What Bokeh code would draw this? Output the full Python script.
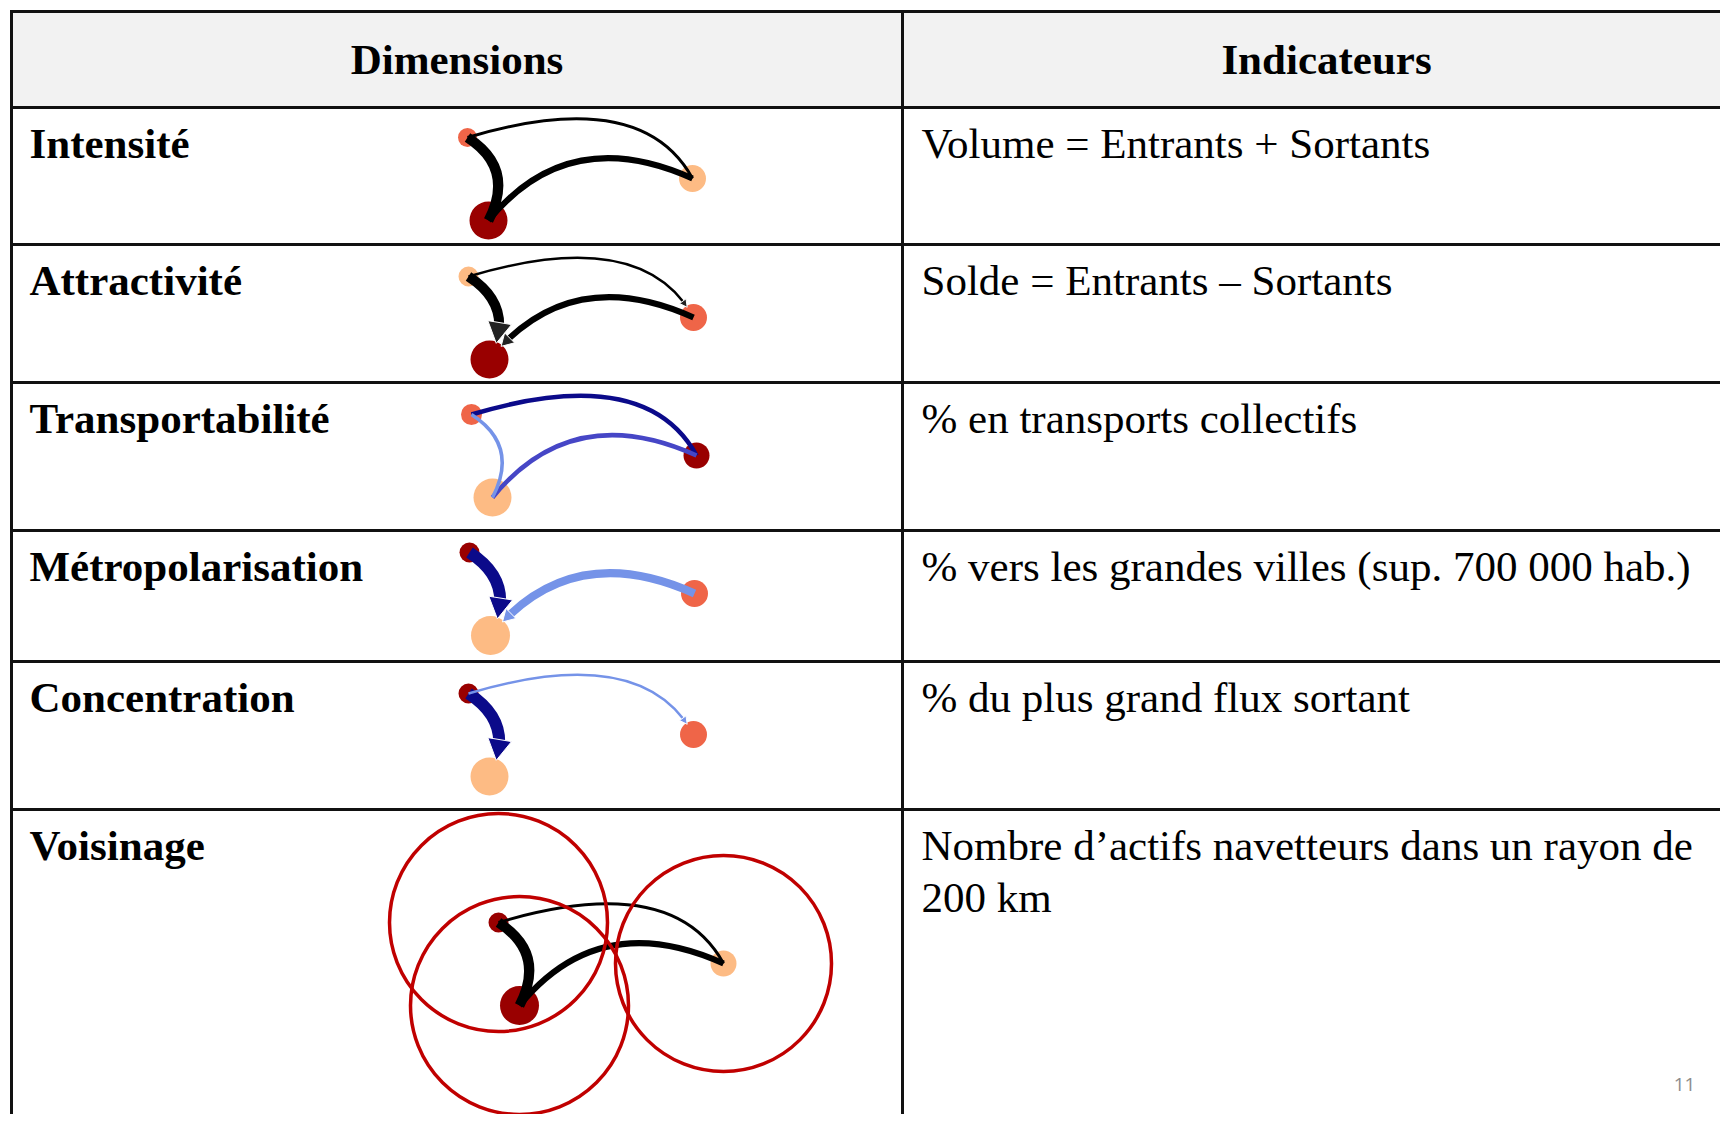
import numpy as np
from bokeh.plotting import figure
from bokeh.models import Range1d
from bokeh.core.properties import value
from bokeh.embed import file_html
from bokeh.resources import INLINE

# ---------------- texts ----------------
header_labels = ["Dimensions", "Indicateurs"]
dimension_labels = ["Intensité", "Attractivité", "Transportabilité",
                    "Métropolarisation", "Concentration", "Voisinage"]
indicator_lines = [
    ["Volume = Entrants + Sortants"],
    ["Solde = Entrants \u2013 Sortants"],
    ["% en transports collectifs"],
    ["% vers les grandes villes (sup. 700 000 hab.)"],
    ["% du plus grand flux sortant"],
    ["Nombre d\u2019actifs navetteurs dans un rayon de", "200 km"],
]
page_number = "11"

# ---------------- table grid (reference pixels) ----------------
row_edges = [11, 107, 244, 382, 530, 661, 809, 1130]
col_edges = [11, 902, 1750]

# ---------------- flow diagrams ----------------
# three places: A (top-left), B (bottom-left), C (right), template at row 1
node_names = ["A", "B", "C"]
node_x = [467, 488, 692]
node_y = [137, 220, 178]
row_dx = [0, 1, 4, 2, 1, 31]
row_dy = [0, 139, 277, 415, 556, 785]

DR, OR, LO = "#990000", "#ef6548", "#fdbb84"
node_colors = [
    [OR, DR, LO],
    [LO, DR, OR],
    [OR, LO, DR],
    [DR, LO, OR],
    [DR, LO, OR],
    [DR, DR, LO],
]
node_radius = [
    [9.5, 19, 13.5],
    [10, 19, 13.5],
    [10.5, 19, 13],
    [10, 19.5, 13.5],
    [10, 19, 13.5],
    [10, 19.5, 13],
]
# control points of the three template curves
curve_ctrl = {("A", "B"): (515, 168), ("A", "C"): (641, 85), ("B", "C"): (568, 122)}

NAVY, MED, LIGHT, BLK, HEADGRAY = "#0b0a8a", "#4646c6", "#7593e8", "#000000", "#222222"
# (source, target, width, colour, head size, head colour)
row_flows = [
    [("A", "B", 10, BLK, None, None), ("A", "C", 3, BLK, None, None), ("B", "C", 6, BLK, None, None)],
    [("A", "B", 10, BLK, "L", HEADGRAY), ("A", "C", 2.5, BLK, "S", HEADGRAY), ("C", "B", 6, BLK, "M", HEADGRAY)],
    [("A", "C", 4.5, NAVY, None, None), ("B", "C", 4.5, MED, None, None), ("A", "B", 3.5, LIGHT, None, None)],
    [("A", "B", 12, NAVY, "L", NAVY), ("C", "B", 8, LIGHT, "M", LIGHT)],
    [("A", "B", 12, NAVY, "L", NAVY), ("A", "C", 2.5, LIGHT, "S", LIGHT)],
    [("A", "B", 10, BLK, None, None), ("A", "C", 3, BLK, None, None), ("B", "C", 6, BLK, None, None)],
]
head_sizes = {"L": (21, 12), "M": (12, 7), "S": (7.5, 4)}
neighbourhood_row = 5
neighbourhood_radius = [109, 109, 108]

# ---------------- figure ----------------
W_PX, H_PX = 1720, 1114
p = figure(width=W_PX, height=H_PX, x_range=Range1d(0, W_PX), y_range=Range1d(H_PX, 0),
           output_backend="svg", toolbar_location=None, min_border=0,
           x_axis_location=None, y_axis_location=None)
p.grid.visible = False
p.outline_line_color = None
p.background_fill_color = "white"
p.border_fill_color = "white"

# header background
p.quad(left=[col_edges[0]], right=[col_edges[-1]], top=[row_edges[0]], bottom=[row_edges[1]],
       fill_color="#f2f2f2", line_color=None)

# grid lines
hy = row_edges[:-1]
p.segment(x0=[col_edges[0]] * len(hy), x1=[col_edges[-1]] * len(hy), y0=hy, y1=hy,
          line_color="#111111", line_width=3, line_cap="square")
vx = col_edges[:-1]
p.segment(x0=vx, x1=vx, y0=[row_edges[0]] * len(vx), y1=[row_edges[-1]] * len(vx),
          line_color="#111111", line_width=3, line_cap="square")

FS = 43
shift = 0.38 * FS  # svg baseline offset compensation
serif = value("Liberation Serif")
# headers
p.text(x=[(col_edges[0] + col_edges[1]) / 2, (col_edges[1] + col_edges[2]) / 2],
       y=[75 - shift] * 2, text=header_labels, text_font=serif,
       text_font_size=f"{FS}px", text_font_style="bold", text_align="center",
       text_baseline="alphabetic", text_color="#000000")
# row labels
base_y = [row_edges[i + 1] + 52 - shift for i in range(len(dimension_labels))]
p.text(x=[29] * len(dimension_labels), y=base_y, text=dimension_labels, text_font=serif,
       text_font_size=f"{FS}px", text_font_style="bold", text_align="left",
       text_baseline="alphabetic", text_color="#000000")
# indicators
ix, iy, it = [], [], []
for i, lines in enumerate(indicator_lines):
    for j, s in enumerate(lines):
        ix.append(col_edges[1] + 19)
        iy.append(base_y[i] + 52 * j)
        it.append(s)
p.text(x=ix, y=iy, text=it, text_font=serif, text_font_size=f"{FS}px", text_align="left",
       text_baseline="alphabetic", text_color="#000000")
# page number
p.text(x=[1684], y=[1091 - 0.38 * 19], text=[page_number], text_font=value("Open Sans"),
       text_font_size="19px", text_align="center", text_baseline="alphabetic",
       text_color="#8c8c8c")


def qpoint(P0, C, P2, t):
    t = np.asarray(t)[..., None]
    return (1 - t) ** 2 * P0 + 2 * t * (1 - t) * C + t ** 2 * P2


ts = np.linspace(0, 1, 4001)
for r in range(len(row_flows)):
    dx, dy = row_dx[r], row_dy[r]
    cx = np.array(node_x) + dx
    cy = np.array(node_y) + dy
    rad = node_radius[r]
    # nodes
    p.circle(x=cx, y=cy, radius=rad, fill_color=node_colors[r], line_color=None)
    # flows
    for (src, dst, w, col, head, hcol) in row_flows[r]:
        si, di = node_names.index(src), node_names.index(dst)
        key = tuple(sorted((src, dst)))
        C = np.array(curve_ctrl[key], dtype=float) + [dx, dy]
        P0 = np.array([cx[si], cy[si]], dtype=float)
        P2 = np.array([cx[di], cy[di]], dtype=float)
        if head is None:
            p.quadratic(x0=[P0[0]], y0=[P0[1]], x1=[P2[0]], y1=[P2[1]], cx=[C[0]], cy=[C[1]],
                        line_color=col, line_width=w)
            continue
        L, Wd = head_sizes[head]
        pts = qpoint(P0, C, P2, ts)
        dist = np.hypot(pts[:, 0] - P2[0], pts[:, 1] - P2[1])
        tip_i = np.where(dist >= rad[di] - 1.5)[0].max()
        base_i = np.where(dist >= rad[di] - 1.5 + L * 0.85)[0].max()
        tip = pts[tip_i]
        tb = ts[base_i]
        end = pts[base_i]
        C2 = P0 + tb * (C - P0)
        p.quadratic(x0=[P0[0]], y0=[P0[1]], x1=[end[0]], y1=[end[1]], cx=[C2[0]], cy=[C2[1]],
                    line_color=col, line_width=w)
        d = tip - end
        d = d / np.hypot(*d)
        n = np.array([-d[1], d[0]])
        bc = tip - L * d
        tri = np.array([tip, bc + Wd * n, bc - Wd * n])
        p.patch(x=tri[:, 0], y=tri[:, 1], fill_color=hcol, line_color="white", line_width=1)
    if r == neighbourhood_row:
        p.circle(x=cx, y=cy, radius=neighbourhood_radius, fill_color=None,
                 line_color="#c00000", line_width=3.5)

open("out.html", "w").write(file_html(p, INLINE))
